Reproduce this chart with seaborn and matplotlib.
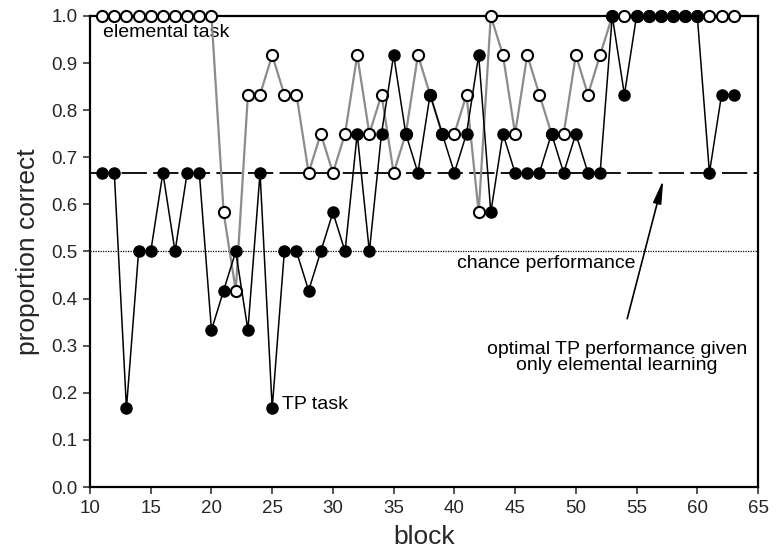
import matplotlib
matplotlib.use("Agg")
import matplotlib.pyplot as plt
import seaborn as sns
import numpy as np
import pandas as pd

# ---- data ----
blocks = list(range(11, 64))
elemental = [1.0, 1.0, 1.0, 1.0, 1.0, 1.0, 1.0, 1.0, 1.0, 1.0,          # 11-20
             0.583, 0.417, 0.833, 0.833, 0.917, 0.833, 0.833, 0.667, 0.75, 0.667,  # 21-30
             0.75, 0.917, 0.75, 0.833, 0.667, 0.75, 0.917, 0.833, 0.75, 0.75,      # 31-40
             0.833, 0.583, 1.0, 0.917, 0.75, 0.917, 0.833, 0.75, 0.75, 0.917,      # 41-50
             0.833, 0.917, 1.0, 1.0, 1.0, 1.0, 1.0, 1.0, 1.0, 1.0,                  # 51-60
             1.0, 1.0, 1.0]                                                         # 61-63
tp = [0.667, 0.667, 0.167, 0.5, 0.5, 0.667, 0.5, 0.667, 0.667, 0.333,      # 11-20
      0.417, 0.5, 0.333, 0.667, 0.167, 0.5, 0.5, 0.417, 0.5, 0.583,        # 21-30
      0.5, 0.75, 0.5, 0.75, 0.917, 0.75, 0.667, 0.833, 0.75, 0.667,        # 31-40
      0.75, 0.917, 0.583, 0.75, 0.667, 0.667, 0.667, 0.75, 0.667, 0.75,    # 41-50
      0.667, 0.667, 1.0, 0.833, 1.0, 1.0, 1.0, 1.0, 1.0, 1.0,              # 51-60
      0.667, 0.833, 0.833]                                                  # 61-63
chance_level = 0.5
optimal_level = 0.667
x_ticks = list(range(10, 66, 5))
y_ticks = [round(v * 0.1, 1) for v in range(0, 11)]

df = pd.DataFrame({"block": blocks, "elemental": elemental, "tp": tp})

sns.set_style("ticks")
plt.rcParams["font.family"] = ["Liberation Sans", "DejaVu Sans"]

fig = plt.figure(figsize=(7.78, 5.59), dpi=100)
ax = fig.add_axes([0.1157, 0.1288, 0.9743 - 0.1157, 0.9714 - 0.1288])

# reference lines
ax.axhline(optimal_level, color="black", lw=1.3, dashes=(14, 3.5), zorder=1)
ax.axhline(chance_level, color="black", lw=0.9, ls=(0, (1, 1)), zorder=1)

sns.lineplot(data=df, x="block", y="elemental", ax=ax, color="#8c8c8c", lw=1.6,
             marker="o", markersize=8, markerfacecolor="white",
             markeredgecolor="black", markeredgewidth=1.5, zorder=4,
             clip_on=False)
sns.lineplot(data=df, x="block", y="tp", ax=ax, color="black", lw=1.1,
             marker="o", markersize=8, markerfacecolor="black",
             markeredgecolor="black", markeredgewidth=1.0, zorder=5,
             clip_on=False)

ax.set_xlim(10, 65)
ax.set_ylim(0, 1.0)
ax.set_xticks(x_ticks)
ax.set_yticks(y_ticks)
ax.set_yticklabels([f"{v:.1f}" for v in y_ticks])
ax.tick_params(axis="both", direction="out", length=5, width=1.1,
               labelsize=13.5, pad=4)
for s in ax.spines.values():
    s.set_linewidth(1.6)
    s.set_color("black")
    s.set_zorder(3)

ax.set_xlabel("block", fontsize=19, labelpad=6)
ax.set_ylabel("proportion correct", fontsize=19, labelpad=8)

txt_kw = dict(fontsize=14, color="black")
ax.text(11.1, 0.964, "elemental task", ha="left", va="center", **txt_kw)
ax.text(25.8, 0.176, "TP task", ha="left", va="center", **txt_kw)
ax.text(47.55, 0.475, "chance performance", ha="center", va="center", **txt_kw)
ax.annotate("optimal TP performance given\nonly elemental learning",
            xy=(57.2, 0.652), xytext=(53.4, 0.275), textcoords="data",
            ha="center", va="center", linespacing=0.95, **txt_kw,
            arrowprops=dict(arrowstyle="-|>,head_length=1.0,head_width=0.18",
                            color="black", lw=1.2, shrinkA=14, shrinkB=0))

fig.savefig("out.png", dpi=100)
